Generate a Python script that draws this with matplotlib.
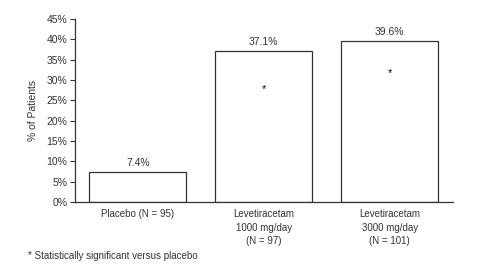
import matplotlib
matplotlib.use("Agg")
import matplotlib.pyplot as plt
from matplotlib import font_manager

# data
groups = ["Placebo (N = 95)",
          "Levetiracetam\n1000 mg/day\n(N = 97)",
          "Levetiracetam\n3000 mg/day\n(N = 101)"]
pct = [7.4, 37.1, 39.6]
significant = [False, True, True]
star_y = [None, 27.8, 31.7]
yticks = [0, 5, 10, 15, 20, 25, 30, 35, 40, 45]

names = {f.name for f in font_manager.fontManager.ttflist}
fam = "Liberation Sans Narrow" if "Liberation Sans Narrow" in names else "Liberation Sans"
plt.rcParams["font.family"] = [fam, "DejaVu Sans"]
ink = "#333333"

fig = plt.figure(figsize=(4.9, 2.71), dpi=100)
ax = fig.add_axes([0.153, 0.2546, 0.771, 0.6754])

x = range(len(groups))
ax.bar(x, pct, width=0.77, color="white", edgecolor=ink, linewidth=0.9)

for i, v in enumerate(pct):
    ax.text(i, v + 1.0, f"{v}%", ha="center", va="bottom", fontsize=7.5, color=ink)
    if significant[i]:
        ax.text(i, star_y[i], "*", ha="center", va="center", fontsize=8, color="black")

ax.set_xlim(-0.5, 2.5)
ax.set_ylim(0, 45)
ax.set_yticks(yticks)
ax.set_yticklabels([f"{t}%" for t in yticks], fontsize=7.5, color=ink)
ax.set_xticks(list(x))
ax.set_xticklabels(groups, fontsize=7, color=ink, linespacing=1.45)
ax.tick_params(axis="x", length=0, pad=5)
ax.tick_params(axis="y", length=3.5, width=0.8, color=ink, pad=2)
ax.set_ylabel("% of Patients", fontsize=7.5, color=ink, labelpad=6)

for s in ["top", "right"]:
    ax.spines[s].set_visible(False)
for s in ["left", "bottom"]:
    ax.spines[s].set_color(ink)
    ax.spines[s].set_linewidth(0.9)

fig.text(0.057, 0.055, "* Statistically significant versus placebo",
         fontsize=7, color=ink, va="center")

fig.savefig("out.png", dpi=100, facecolor="white")
